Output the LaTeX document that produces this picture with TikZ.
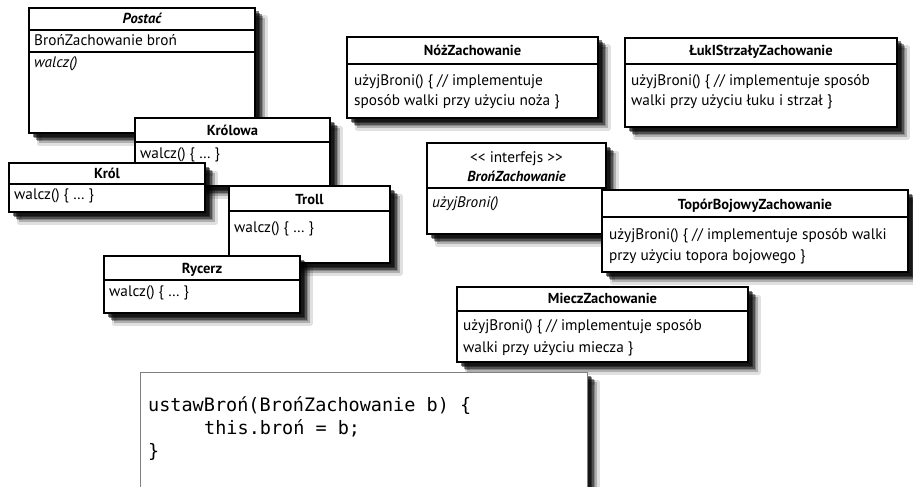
\documentclass[tikz,border=0pt]{standalone}
\usepackage{fontspec}
\setmainfont{PT Sans}
\setmonofont{DejaVu Sans Mono}
\usetikzlibrary{calc}

\tikzset{
  % soft shadow below and to the right: stacked translucent copies, each a bit further out
  softshadow/.style={
    preaction={fill=black, fill opacity=0.22, draw=black, draw opacity=0.12, line width=5pt,
      line join=round, transform canvas={shift={(10pt,-10pt)}}},
    preaction={fill=black, fill opacity=0.32, transform canvas={shift={(8pt,-8pt)}}},
    preaction={fill=black, fill opacity=0.4, transform canvas={shift={(6.5pt,-6.5pt)}}},
    preaction={fill=black, fill opacity=0.45, transform canvas={shift={(5pt,-5pt)}}},
    preaction={fill=black, fill opacity=0.5, transform canvas={shift={(3.5pt,-3.5pt)}}}},
  cbox/.style={softshadow, draw=black, line width=2pt, fill=white, inner sep=0pt,
    outer sep=0pt, anchor=north west},
  codebox/.style={softshadow, draw=black!50, line width=0.8pt, fill=white, inner sep=0pt,
    outer sep=0pt, anchor=north west},
  divider/.style={line width=1.5pt},
  ctitle/.style={font=\fontsize{14.5}{16}\selectfont\bfseries, anchor=base, inner sep=0pt},
  cbody/.style={font=\fontsize{15.3}{18}\selectfont, anchor=base west, inner sep=0pt},
  ccode/.style={font=\fontsize{18.5}{22}\selectfont\ttfamily, anchor=base west, inner sep=0pt},
}

% class box: name, left, top, right, bottom (y grows downwards)
\newcommand\classbox[5]{%
  \node[cbox, minimum width={(#4-#2)*1pt}, minimum height={(#5-#3)*1pt}] (#1) at (#2,#3) {};}
% horizontal compartment line at a given depth below the box top
\newcommand\hdiv[2]{%
  \draw[divider] ($(#1.north west)+(0,#2)$) -- ($(#1.north east)+(0,#2)$);}

\begin{document}
\begin{tikzpicture}[x=1pt, y=-1pt]
  \useasboundingbox (0,0) rectangle (913,487);
  \clip (0,0) rectangle (913,487);

  % abstract character class
  \classbox{postac}{29}{8}{255}{133}
  \hdiv{postac}{22}
  \hdiv{postac}{44}
  \node[ctitle] (postacT) at ($(postac.north)+(0,16)$) {\itshape Postać};
  \node[cbody] (postacA) at ($(postac.north west)+(5,38)$) {BrońZachowanie broń};
  \node[cbody] (postacM) at ($(postac.north west)+(5,60)$) {\itshape walcz()};

  % concrete characters
  \classbox{krolowa}{135}{118}{330}{186}
  \hdiv{krolowa}{24}
  \node[ctitle] (krolowaT) at ($(krolowa.north)+(0,17)$) {Królowa};
  \node[cbody] (krolowaM) at ($(krolowa.north west)+(5,40)$) {walcz() \{ … \}};

  \classbox{krol}{9}{163}{205}{212}
  \hdiv{krol}{21}
  \node[ctitle] (krolT) at ($(krol.north)+(0,15)$) {Król};
  \node[cbody] (krolM) at ($(krol.north west)+(5,36)$) {walcz() \{ … \}};

  \classbox{troll}{229}{186}{390}{263}
  \hdiv{troll}{25}
  \node[ctitle] (trollT) at ($(troll.north)+(0,18)$) {Troll};
  \node[cbody] (trollM) at ($(troll.north west)+(5,46)$) {walcz() \{ … \}};

  \classbox{rycerz}{104}{256}{300}{313}
  \hdiv{rycerz}{24}
  \node[ctitle] (rycerzT) at ($(rycerz.north)+(0,17)$) {Rycerz};
  \node[cbody] (rycerzM) at ($(rycerz.north west)+(5,40)$) {walcz() \{ … \}};

  % weapon behaviours
  \classbox{noz}{347}{37}{598}{118}
  \hdiv{noz}{27}
  \node[ctitle] (nozT) at ($(noz.north)+(0,19)$) {NóżZachowanie};
  \node[cbody] (nozA) at ($(noz.north west)+(7,48)$) {użyjBroni() \{ // implementuje};
  \node[cbody] (nozB) at ($(noz.north west)+(7,68)$) {sposób walki przy użyciu noża \}};

  \classbox{luk}{625}{38}{897}{127}
  \hdiv{luk}{26}
  \node[ctitle] (lukT) at ($(luk.north)+(0,18)$) {ŁukIStrzałyZachowanie};
  \node[cbody] (lukA) at ($(luk.north west)+(6,47)$) {użyjBroni() \{ // implementuje sposób};
  \node[cbody] (lukB) at ($(luk.north west)+(6,67)$) {walki przy użyciu łuku i strzał \}};

  \classbox{bron}{427}{143}{606}{234}
  \hdiv{bron}{45}
  \node[font=\fontsize{15.3}{18}\selectfont, anchor=base, inner sep=0pt] (bronS)
    at ($(bron.north)+(0,19)$) {<{}< interfejs >{}>};
  \node[ctitle] (bronT) at ($(bron.north)+(0,38)$) {\itshape BrońZachowanie};
  \node[cbody] (bronM) at ($(bron.north west)+(5,64)$) {\itshape użyjBroni()};

  \classbox{topor}{602}{190}{908}{272}
  \hdiv{topor}{27}
  \node[ctitle] (toporT) at ($(topor.north)+(0,19)$) {TopórBojowyZachowanie};
  \node[cbody] (toporA) at ($(topor.north west)+(7,49)$) {użyjBroni() \{ // implementuje sposób walki};
  \node[cbody] (toporB) at ($(topor.north west)+(7,70)$) {przy użyciu topora bojowego \}};

  \classbox{miecz}{457}{287}{748}{362}
  \hdiv{miecz}{24}
  \node[ctitle] (mieczT) at ($(miecz.north)+(0,16)$) {MieczZachowanie};
  \node[cbody] (mieczA) at ($(miecz.north west)+(6,43)$) {użyjBroni() \{ // implementuje sposób};
  \node[cbody] (mieczB) at ($(miecz.north west)+(6,65)$) {walki przy użyciu miecza \}};

  % setter snippet
  \node[codebox, minimum width=447pt, minimum height=140pt] (code) at (140,372) {};
  \node[ccode] (codeA) at ($(code.north west)+(8,39)$) {ustawBroń(BrońZachowanie b) \{};
  \node[ccode] (codeB) at ($(code.north west)+(64,62)$) {this.broń = b;};
  \node[ccode] (codeC) at ($(code.north west)+(8,85)$) {\}};
\end{tikzpicture}
\end{document}
